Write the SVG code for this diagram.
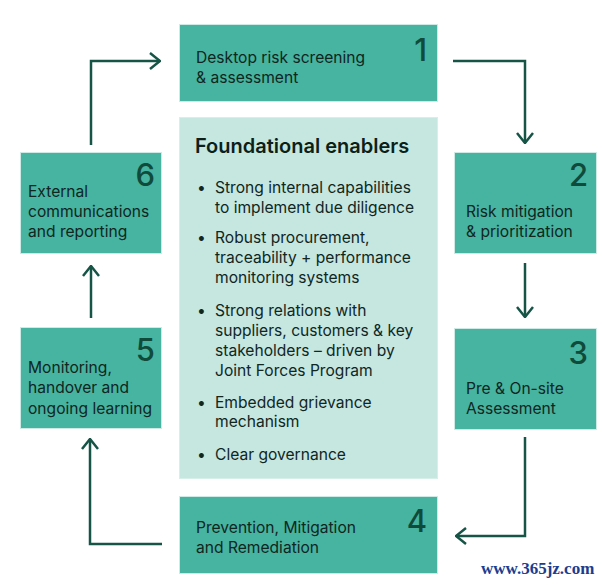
<svg xmlns="http://www.w3.org/2000/svg" width="602" height="585" viewBox="0 0 602 585">
<style>
.box{fill:#46b4a0;stroke:#cdebe4;stroke-width:1}
.core{fill:#c5e7df;stroke:#d6efe9;stroke-width:1}
.t{font-family:Inter,"Noto Sans",sans-serif;font-size:15.6px;fill:#10261f}
.num{font-family:Inter,"Noto Sans",sans-serif;font-size:31px;font-weight:500;fill:#0f4a3b;text-anchor:end}
.title{font-family:Inter,"Noto Sans",sans-serif;font-size:20px;font-weight:600;fill:#0c1f1a}
.b{font-family:Inter,"Noto Sans",sans-serif;font-size:15.6px;fill:#10261f}
.con{fill:none;stroke:#165446;stroke-width:2.5;marker-end:url(#ah)}
.wm{font-family:"Liberation Serif",serif;font-size:17px;font-weight:bold;fill:#1c3d8f}
</style>
<defs>
<marker id="ah" viewBox="0 0 12 18" refX="11" refY="9" markerWidth="12" markerHeight="18" markerUnits="userSpaceOnUse" orient="auto">
<path d="M1,1 L11,9 L1,17" fill="none" stroke="#165446" stroke-width="2.5"/>
</marker>
</defs>
<rect width="602" height="585" fill="#ffffff"/>
<g id="connectors">
<path class="con" d="M91,145 V61 H160"/>
<path class="con" d="M453,61 H525 V143"/>
<path class="con" d="M525,263 V317"/>
<path class="con" d="M525,437 V536 H456"/>
<path class="con" d="M162,544 H90 V439"/>
<path class="con" d="M91,318 V266"/>
</g>
<g id="node1">
<rect class="box" x="179.5" y="24.5" width="258" height="77"/>
<text class="t" x="196" y="63">Desktop risk screening</text>
<text class="t" x="196" y="83">&amp; assessment</text>
<text class="num" x="427" y="61">1</text>
</g>
<g id="node2">
<rect class="box" x="454.5" y="152.5" width="142" height="101"/>
<text class="num" x="588" y="186">2</text>
<text class="t" x="466" y="217">Risk mitigation</text>
<text class="t" x="466" y="237">&amp; prioritization</text>
</g>
<g id="node3">
<rect class="box" x="454.5" y="328.5" width="142" height="101"/>
<text class="num" x="588" y="364">3</text>
<text class="t" x="466" y="394">Pre &amp; On-site</text>
<text class="t" x="466" y="414">Assessment</text>
</g>
<g id="node4">
<rect class="box" x="179.5" y="496.5" width="258" height="77"/>
<text class="t" x="196" y="533">Prevention, Mitigation</text>
<text class="t" x="196" y="553">and Remediation</text>
<text class="num" x="427" y="532">4</text>
</g>
<g id="node5">
<rect class="box" x="20.5" y="327.5" width="141" height="101"/>
<text class="num" x="155" y="361">5</text>
<text class="t" x="28" y="373">Monitoring,</text>
<text class="t" x="28" y="393">handover and</text>
<text class="t" x="28" y="414">ongoing learning</text>
</g>
<g id="node6">
<rect class="box" x="20.5" y="152.5" width="141" height="101"/>
<text class="num" x="155" y="186">6</text>
<text class="t" x="28" y="197">External</text>
<text class="t" x="28" y="217">communications</text>
<text class="t" x="28" y="237">and reporting</text>
</g>
<g id="enablers">
<rect class="core" x="179.5" y="117.5" width="258" height="361"/>
<text class="title" x="195" y="153">Foundational enablers</text>
<g class="b">
<text x="197" y="193">•</text>
<text x="215" y="193">Strong internal capabilities</text>
<text x="215" y="213">to implement due diligence</text>
<text x="197" y="243">•</text>
<text x="215" y="243">Robust procurement,</text>
<text x="215" y="263">traceability + performance</text>
<text x="215" y="283">monitoring systems</text>
<text x="197" y="316">•</text>
<text x="215" y="316">Strong relations with</text>
<text x="215" y="336">suppliers, customers &amp; key</text>
<text x="215" y="356">stakeholders – driven by</text>
<text x="215" y="376">Joint Forces Program</text>
<text x="197" y="408">•</text>
<text x="215" y="408">Embedded grievance</text>
<text x="215" y="427">mechanism</text>
<text x="197" y="460">•</text>
<text x="215" y="460">Clear governance</text>
</g>
</g>
<text class="wm" x="481" y="574">www.365jz.com</text>
</svg>
